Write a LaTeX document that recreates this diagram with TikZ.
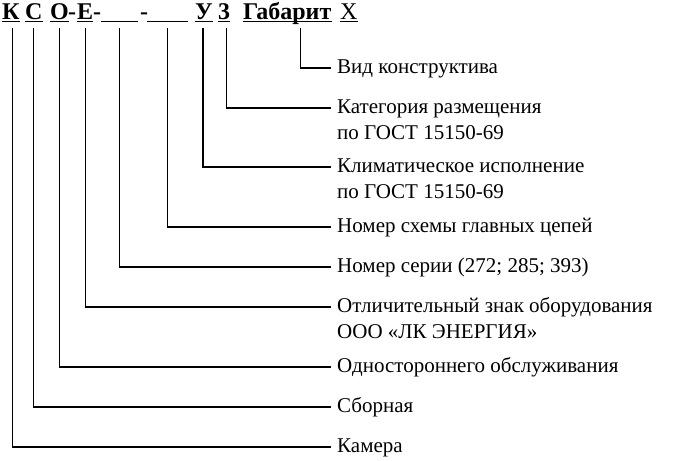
\documentclass[tikz,border=0pt]{standalone}
\usepackage{fontspec}
\setmainfont{Liberation Serif}
\usetikzlibrary{positioning}

\begin{document}
\begin{tikzpicture}[x=1pt,y=-1pt,
  bukva/.style={inner sep=0pt,anchor=base west,text height=17pt,text depth=8.5pt,font=\fontsize{24}{28}\selectfont\bfseries},
  podpis/.style={inner ysep=0pt,inner xsep=6pt,anchor=west,text height=15.5pt,text depth=4.5pt,font=\fontsize{21}{25}\selectfont},
  vynoska/.style={line width=1.1pt}
  ]
  \useasboundingbox (0,0) rectangle (681,461);

  \node[bukva] (hk) at (2,19.5) {К};
  \node[bukva] (hs) at (25,19.5) {С};
  \node[bukva] (ho) at (50,19.5) {О};
  \node[bukva] (d1) at (68,19.5) {-};
  \node[bukva] (he) at (77,19.5) {Е};
  \node[bukva] (d2) at (93,19.5) {-};
  \node[bukva,minimum width=37pt] (n1) at (101,19.5) {};
  \node[bukva] (d3) at (140,19.5) {-};
  \node[bukva,minimum width=41pt] (n2) at (147,19.5) {};
  \node[bukva] (hu) at (195,19.5) {У};
  \node[bukva] (h3) at (218,19.5) {3};
  \node[bukva] (hg) at (243,19.5) {Габарит};
  \node[bukva,font=\fontsize{24}{28}\selectfont] (hx) at (340,19.5) {Х};

  \foreach \n in {hk,hs,ho,he,n1,n2,hu,h3,hg,hx}
    \draw[line width=1pt] ([yshift=6.5pt]\n.south west) -- ([yshift=6.5pt]\n.south east);

  \node[podpis] (vid) at (331,68) {Вид конструктива};
  \node[podpis] (kat) at (331,108) {Категория размещения};
  \node[podpis,below right=6pt and 0pt of kat.south west] (kat2) {по ГОСТ 15150-69};
  \node[podpis] (kli) at (331,167) {Климатическое исполнение};
  \node[podpis,below right=6pt and 0pt of kli.south west] (kli2) {по ГОСТ 15150-69};
  \node[podpis] (shema) at (331,227) {Номер схемы главных цепей};
  \node[podpis] (seria) at (331,267) {Номер серии (272; 285; 393)};
  \node[podpis] (znak) at (331,307) {Отличительный знак оборудования};
  \node[podpis,below right=6pt and 0pt of znak.south west] (znak2) {ООО «ЛК ЭНЕРГИЯ»};
  \node[podpis] (odn) at (331,367) {Одностороннего обслуживания};
  \node[podpis] (sbor) at (331,407) {Сборная};
  \node[podpis] (kam) at (331,447) {Камера};

  \draw[vynoska] ([xshift=13.5pt]hg.south) |- (vid.west);
  \draw[vynoska] ([xshift=2pt]h3.south) |- (kat.west);
  \draw[vynoska] ([xshift=-1pt]hu.south) |- (kli.west);
  \draw[vynoska] (n2.south) |- (shema.west);
  \draw[vynoska] (n1.south) |- (seria.west);
  \draw[vynoska] (he.south) |- (znak.west);
  \draw[vynoska] (ho.south) |- (odn.west);
  \draw[vynoska] (hs.south) |- (sbor.west);
  \draw[vynoska] ([xshift=2pt]hk.south) |- (kam.west);

\end{tikzpicture}
\end{document}
